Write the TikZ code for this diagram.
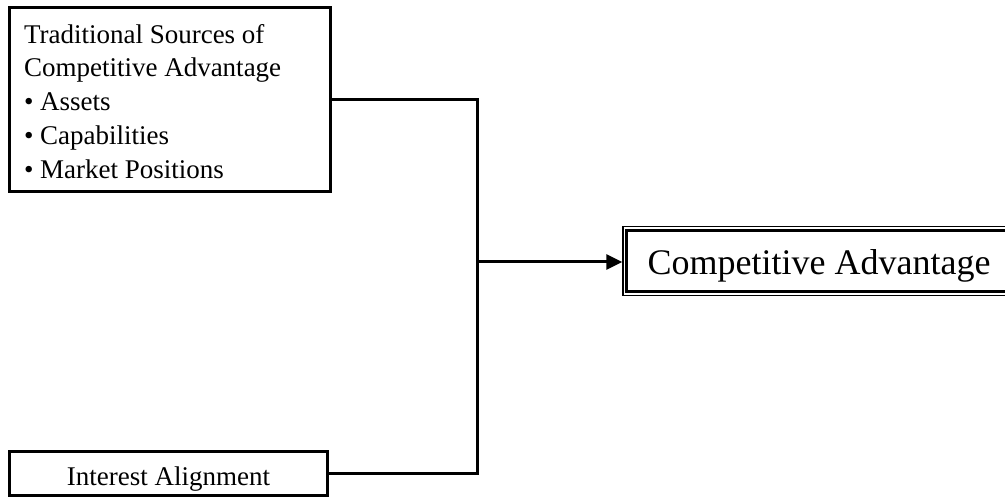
\documentclass[tikz,border=0pt]{standalone}
\usepackage{fontspec}
\setmainfont{Liberation Serif}
\usetikzlibrary{arrows.meta}
\begin{document}
\begin{tikzpicture}[x=1pt,y=-1pt,
  boxstyle/.style={draw=black,line width=3pt,fill=white,inner sep=0pt},
  conn/.style={line width=3pt}]
\useasboundingbox (0,0) rectangle (1005,497);
\node[boxstyle,minimum width=321pt,minimum height=184pt,
  font=\fontsize{27}{33.7}\selectfont] (trad) at (169.5,99.5)
  {\raisebox{-8pt}[0pt][0pt]{\parbox{291pt}{\raggedright Traditional Sources of\\Competitive Advantage\\• Assets\\• Capabilities\\• Market Positions}}};
\node[boxstyle,minimum width=318pt,minimum height=44pt,text height=24pt,text depth=0pt,
  font=\fontsize{27}{33}\selectfont] (inter) at (168.5,473)
  {Interest Alignment};
\node[draw=black,line width=1.5pt,fill=white,inner sep=0pt,minimum width=392pt,minimum height=69pt,
  text height=28pt,text depth=0pt,
  font=\fontsize{36}{42}\selectfont] (comp) at (819,261) {Competitive Advantage};
\draw[line width=3pt] ([xshift=4.5pt,yshift=-4.5pt]comp.north west) rectangle ([xshift=-4.5pt,yshift=4.5pt]comp.south east);
\coordinate (j) at (477,262);
\draw[conn] (trad.east |- 0,100) -| (j);
\draw[conn] (inter.east) -| (j);
\draw[conn,-{Triangle[length=16pt,width=15pt]}] (j) -- (comp.west |- j);
\end{tikzpicture}
\end{document}
